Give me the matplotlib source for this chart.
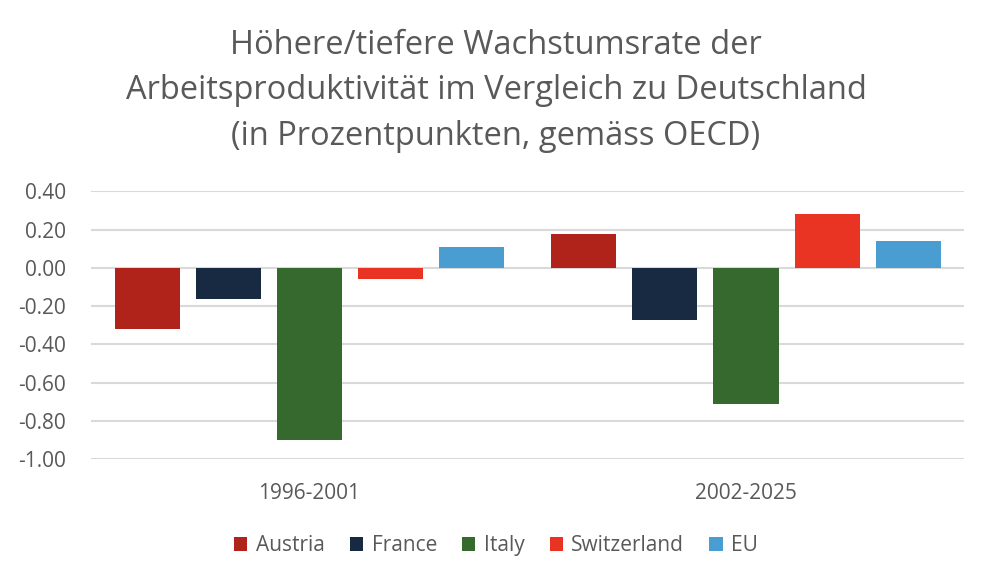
import numpy as np
import matplotlib.pyplot as plt

# Daten (Prozentpunkte gegenüber Deutschland)
perioden = ["1996-2001", "2002-2025"]
laender = ["Austria", "France", "Italy", "Switzerland", "EU"]
austria = [-0.32, 0.18]
france = [-0.16, -0.27]
italy = [-0.90, -0.71]
switzerland = [-0.06, 0.28]
eu = [0.11, 0.14]
yticks = [0.40, 0.20, 0.00, -0.20, -0.40, -0.60, -0.80, -1.00]

serien = [austria, france, italy, switzerland, eu]
farben = ["#B0231B", "#172A42", "#35692E", "#E93424", "#4A9DD1"]

plt.rcParams['font.family'] = ['Open Sans', 'DejaVu Sans']

fig = plt.figure(figsize=(9.92, 5.82), dpi=100)
ax = fig.add_axes([0.092, 0.211, 0.880, 0.460])

x = np.arange(len(perioden))
pitch = 0.186
breite = 0.149
for i, (werte, name, farbe) in enumerate(zip(serien, laender, farben)):
    ax.bar(x + (i - 2) * pitch, werte, width=breite, color=farbe, label=name, zorder=3)

ax.set_xlim(-0.5, 1.5)
ax.set_ylim(-1.0, 0.4)
ax.set_yticks(yticks)
ax.set_yticklabels([f"{v:.2f}" for v in yticks])
ax.set_xticks(x)
ax.set_xticklabels(perioden)
ax.grid(axis='y', color="#D9D9D9", linewidth=1.5, zorder=0)
ax.set_axisbelow(True)
for s in ax.spines.values():
    s.set_visible(False)
ax.tick_params(axis='both', length=0, labelsize=15, colors="#595959")
ax.tick_params(axis='y', pad=18)
ax.tick_params(axis='x', pad=17)

fig.text(0.5, 0.844, "Höhere/tiefere Wachstumsrate der\nArbeitsproduktivität im Vergleich zu Deutschland\n(in Prozentpunkten, gemäss OECD)",
         ha='center', va='center', fontsize=23.5, color="#595959", linespacing=1.5)

leg = fig.legend(loc='center', bbox_to_anchor=(0.5, 0.062), ncol=5, frameon=False,
                 fontsize=15, handlelength=0.65, handleheight=0.65, handletextpad=0.4,
                 columnspacing=1.2)
for t in leg.get_texts():
    t.set_color("#595959")

fig.savefig("out.png", dpi=100)
